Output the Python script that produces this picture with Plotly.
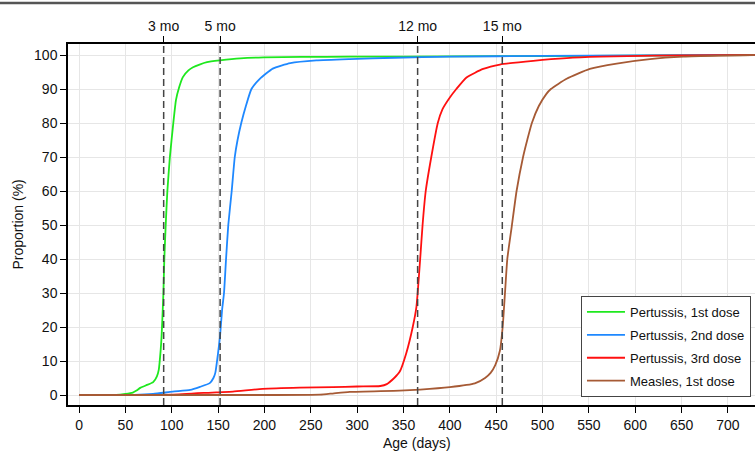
import math
import plotly.graph_objects as go

# ---------------- data ----------------
series_names = ["Pertussis, 1st dose", "Pertussis, 2nd dose", "Pertussis, 3rd dose", "Measles, 1st dose"]
series_colors = ["#1ee81e", "#1e88ff", "#ff1010", "#a65a35"]

p1_days = [0, 40, 50, 58, 62, 66, 72, 80, 84, 86, 88, 89, 90, 91, 92, 93.5, 95.3, 98, 101.7, 104.6,
           108, 112, 118, 123, 130, 138, 152, 174, 199, 240, 292, 350, 450, 550, 650, 729]
p1_vals = [0, 0, 0.3, 0.7, 1.3, 2.1, 2.8, 3.8, 5.5, 7.4, 13, 17, 23, 30, 40, 50, 60, 70, 80, 86.8,
           90.5, 93.5, 95.5, 96.4, 97.2, 97.9, 98.4, 99.0, 99.3, 99.45, 99.5, 99.55, 99.65, 99.75, 99.9, 100]

p2_days = [0, 60, 80, 101, 120, 130.5, 141, 145, 147, 150, 152, 154.3, 156.4, 158.6, 161, 164.7, 168,
           171, 175, 180, 186, 195, 209, 228, 256, 292, 340, 400, 500, 600, 729]
p2_vals = [0, 0, 0.3, 1.0, 1.5, 2.4, 3.5, 5, 6.5, 12.4, 17, 25, 30, 40, 50, 60, 70,
           75, 80, 85, 90, 93, 96, 97.6, 98.4, 98.8, 99.2, 99.5, 99.75, 99.9, 100]

p3_days = [0, 50, 100, 148, 166, 198, 238, 274, 300, 325, 332, 340, 346, 353, 360, 364, 365.3, 368,
           370.6, 374, 380, 387, 392, 400, 407, 418, 436, 454, 490, 526, 562, 620, 729]
p3_vals = [0, 0, 0.1, 0.8, 1.0, 1.8, 2.15, 2.3, 2.5, 2.65, 3.2, 5, 6.9, 12.3, 20, 26, 30, 40,
           50, 60, 70, 80, 84, 87.5, 90, 93.4, 95.9, 97.2, 98.3, 99.1, 99.5, 99.8, 100]

m1_days = [0, 200, 260, 275, 292, 346, 368, 400, 427, 438, 444, 449, 454, 457, 459.5, 462, 467, 472,
           479, 483.5, 488.5, 496, 504, 509, 526, 551, 580, 616, 652, 690, 729]
m1_vals = [0, 0, 0.1, 0.5, 0.9, 1.3, 1.6, 2.3, 3.4, 5, 6.5, 8.8, 13, 20, 30, 40, 50, 60,
           70, 75, 80, 85, 88.5, 90, 93, 95.9, 97.5, 98.8, 99.5, 99.8, 100]

month_days = [91.3, 152.2, 365.25, 456.6]
month_labels = ["3 mo", "5 mo", "12 mo", "15 mo"]

x_ticks = list(range(0, 701, 50))
y_ticks = list(range(0, 101, 10))

all_days = [p1_days, p2_days, p3_days, m1_days]
all_vals = [p1_vals, p2_vals, p3_vals, m1_vals]

# ---------------- figure ----------------
FONT = "Liberation Sans, Arial, sans-serif"
fig = go.Figure()

for i, (name, color, d, v) in enumerate(zip(series_names, series_colors, all_days, all_vals)):
    fig.add_trace(go.Scatter(x=d, y=v, mode="lines", name=name, legendgroup=f"g{i}",
                             line=dict(color=color, width=1.8, shape="spline", smoothing=0.5)))

# dummy trace for the top month axis
fig.add_trace(go.Scatter(x=month_days, y=[math.nan] * len(month_days), xaxis="x2",
                         showlegend=False, hoverinfo="skip", mode="lines"))

for md in month_days:
    fig.add_shape(type="line", xref="x", yref="paper", x0=md, x1=md, y0=0, y1=1,
                  line=dict(color="#444444", width=1.5, dash="7px,4px"), layer="above")

# top page border
fig.add_shape(type="line", xref="paper", yref="paper", x0=-0.2, x1=1.2, y0=1.1136, y1=1.1136,
              line=dict(color="#555555", width=2.5))

xr = [-11.9, 729.2]
fig.update_layout(
    width=755, height=451,
    margin=dict(l=68, r=0, t=44, b=46, autoexpand=False),
    paper_bgcolor="white", plot_bgcolor="white",
    font=dict(family=FONT, size=14, color="#111111"),
    showlegend=True,
    legend=dict(x=0.7467, y=0.302, xanchor="left", yanchor="top",
                bgcolor="white", bordercolor="#444444", borderwidth=1,
                tracegroupgap=3, traceorder="grouped", itemwidth=38,
                font=dict(size=13, color="#111111")),
    xaxis=dict(range=xr, tickmode="array", tickvals=x_ticks, ticks="outside", ticklen=6,
               tickcolor="black", showline=True, linecolor="black", linewidth=1.5,
               showgrid=True, gridcolor="#e6e6e6", gridwidth=1, zeroline=False,
               automargin=False, tickfont=dict(size=14)),
    xaxis2=dict(range=xr, overlaying="x", side="top", tickmode="array", tickvals=month_days,
                ticktext=month_labels, ticks="outside", ticklen=6, tickcolor="black",
                showline=True, linecolor="black", linewidth=1.5, showgrid=False, zeroline=False,
                automargin=False, tickfont=dict(size=14)),
    yaxis=dict(range=[-2.94, 103.24], tickmode="array", tickvals=y_ticks, ticks="outside",
               ticklen=6, tickcolor="black", showline=True, linecolor="black", linewidth=1.5,
               showgrid=True, gridcolor="#e6e6e6", gridwidth=1, zeroline=False,
               automargin=False, tickfont=dict(size=14)),
    annotations=[
        dict(text="Age (days)", xref="paper", yref="paper", x=0.5087, y=-0.105,
             showarrow=False, font=dict(size=14), xanchor="center", yanchor="middle"),
        dict(text="Proportion (%)", xref="paper", yref="paper", x=-0.0728, y=0.5,
             showarrow=False, font=dict(size=14), textangle=-90, xanchor="center", yanchor="middle"),
    ],
)

fig.write_html("out.html", config={"displayModeBar": False},
               post_script="document.body.style.margin='0';document.body.style.overflow='hidden';")
